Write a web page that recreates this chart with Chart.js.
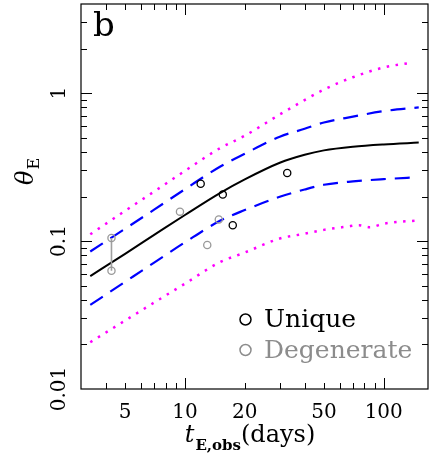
<!DOCTYPE html>
<html>
<head>
<meta charset="utf-8">
<script src="https://cdn.jsdelivr.net/npm/chart.js@4"></script>
<style>
  html, body { margin: 0; padding: 0; background: #fff; }
  #wrap { width: 429px; height: 455px; }
</style>
</head>
<body>
<div id="wrap"><canvas id="myChart" width="429" height="455"></canvas></div>
<script>
// curves (t_E,obs in days, theta_E)
const tMid = [3.34, 5, 7, 10, 15, 20, 30, 40, 50, 70, 100, 150];
const thetaMedian = [0.058, 0.082, 0.110, 0.150, 0.211, 0.261, 0.338, 0.383, 0.410, 0.434, 0.450, 0.463];
const thetaUpper1 = [0.085, 0.121, 0.163, 0.224, 0.318, 0.389, 0.507, 0.574, 0.633, 0.693, 0.755, 0.800];
const thetaLower1 = [0.037, 0.053, 0.0715, 0.098, 0.137, 0.162, 0.199, 0.223, 0.240, 0.253, 0.262, 0.270];
const tUpper2 = [3.34, 5, 7, 10, 15, 20, 30, 40, 50, 70, 100, 140];
const thetaUpper2 = [0.111, 0.160, 0.216, 0.298, 0.424, 0.515, 0.717, 0.897, 1.056, 1.28, 1.49, 1.61];
const tLower2 = [3.34, 5, 7, 10, 15, 20, 30, 40, 50, 65, 75, 85, 100, 150];
const thetaLower2 = [0.0207, 0.029, 0.0384, 0.0515, 0.072, 0.0836, 0.104, 0.112, 0.119, 0.125, 0.128, 0.124, 0.131, 0.138];

// events
const uniqueT = [12.0, 15.5, 17.4, 32.7];
const uniqueTheta = [0.244, 0.206, 0.128, 0.288];
const degenT = [4.27, 4.27, 9.44, 12.95, 14.8];
const degenTheta = [0.105, 0.063, 0.158, 0.094, 0.140];
const pairT = [4.27, 4.27];
const pairTheta = [0.105, 0.063];

const xTickLabels = [5, 10, 20, 50, 100];
const yTickLabels = [0.01, 0.1, 1];
const xRange = [3, 167];
const yRange = [0.01, 4];

const pts = (xs, ys) => xs.map((x, i) => ({x: x, y: ys[i]}));
const SERIF = '"DejaVu Serif", serif';
const GRAY = '#8c8c8c';

const curve = (data, color, dash, width) => ({
  data: data, showLine: true, borderColor: color, borderWidth: width,
  borderDash: dash, pointRadius: 0, cubicInterpolationMode: 'monotone', fill: false
});

// frame, inward ticks, labels, legend
const decor = {
  id: 'decor',
  afterDraw(chart) {
    const c = chart.ctx, a = chart.chartArea;
    const xs = chart.scales.x, ys = chart.scales.y;
    c.save();
    c.strokeStyle = '#000';
    c.lineWidth = 1.2;
    c.strokeRect(a.left, a.top, a.right - a.left, a.bottom - a.top);
    c.lineWidth = 1;
    // x ticks
    for (let d = 1; d <= 100; d *= 10) {
      for (let k = 1; k <= 9; k++) {
        const v = k * d;
        if (v <= xRange[0] || v >= xRange[1]) continue;
        const px = Math.round(xs.getPixelForValue(v)) + 0.5;
        const len = k === 1 ? 11 : 6;
        c.beginPath();
        c.moveTo(px, a.bottom); c.lineTo(px, a.bottom - len);
        c.moveTo(px, a.top); c.lineTo(px, a.top + len);
        c.stroke();
      }
    }
    // y ticks
    for (let d = 0.01; d <= 1.01; d *= 10) {
      for (let k = 1; k <= 9; k++) {
        const v = k * d;
        if (v <= yRange[0] * 1.001 || v >= yRange[1]) continue;
        const py = Math.round(ys.getPixelForValue(v)) + 0.5;
        const len = k === 1 ? 11 : 6;
        c.beginPath();
        c.moveTo(a.left, py); c.lineTo(a.left + len, py);
        c.moveTo(a.right, py); c.lineTo(a.right - len, py);
        c.stroke();
      }
    }
    // tick labels
    c.fillStyle = '#000';
    c.font = '20px ' + SERIF;
    c.textAlign = 'center';
    c.textBaseline = 'alphabetic';
    xTickLabels.forEach(v => c.fillText(String(v), xs.getPixelForValue(v), 418));
    yTickLabels.forEach(v => {
      c.save();
      c.translate(65, ys.getPixelForValue(v));
      c.rotate(-Math.PI / 2);
      c.fillText(String(v), 0, 0);
      c.restore();
    });
    // panel letter
    c.textAlign = 'left';
    c.font = '34px ' + SERIF;
    c.fillText('b', 93, 36);
    // x title
    const big = '24px ' + SERIF, itBig = 'italic 24px ' + SERIF, sub = '600 15px ' + SERIF;
    c.font = itBig; const w1 = c.measureText('t').width;
    c.font = sub; const w2 = c.measureText('E,obs').width;
    c.font = big; const w3 = c.measureText('(days)').width;
    let x0 = 250 - (w1 + w2 + w3 + 1) / 2;
    c.font = itBig; c.fillText('t', x0, 442); x0 += w1 + 1;
    c.font = sub; c.fillText('E,obs', x0, 450); x0 += w2;
    c.font = big; c.fillText('(days)', x0, 442);
    // y title
    c.save();
    c.translate(33, 172);
    c.rotate(-Math.PI / 2);
    c.font = itBig; const wt = c.measureText('θ').width;
    c.font = '16px ' + SERIF; const we = c.measureText('E').width;
    c.font = itBig; c.fillText('θ', -(wt + we) / 2, 0);
    c.font = '16px ' + SERIF; c.fillText('E', -(wt + we) / 2 + wt + 1, 6);
    c.restore();
    // legend
    c.font = '25px ' + SERIF;
    c.lineWidth = 1.5;
    c.strokeStyle = '#000'; c.fillStyle = '#000';
    c.beginPath(); c.arc(245.5, 319.5, 5.5, 0, 2 * Math.PI); c.stroke();
    c.fillText('Unique', 264, 327);
    c.strokeStyle = GRAY; c.fillStyle = GRAY;
    c.beginPath(); c.arc(245.5, 350, 5.5, 0, 2 * Math.PI); c.stroke();
    c.fillText('Degenerate', 264, 358);
    c.restore();
  }
};

const ctx = document.getElementById('myChart');
const myChart = new Chart(ctx, {
  type: 'scatter',
  data: {
    datasets: [
      { data: pts(uniqueT, uniqueTheta), pointRadius: 3.6, pointBorderWidth: 1.3,
        pointBorderColor: '#000', pointBackgroundColor: 'rgba(0,0,0,0)', order: 0 },
      { data: pts(degenT, degenTheta), pointRadius: 3.6, pointBorderWidth: 1.3,
        pointBorderColor: '#999', pointBackgroundColor: 'rgba(0,0,0,0)', order: 1 },
      { data: pts(pairT, pairTheta), showLine: true, borderColor: '#a0a0a0', borderWidth: 1.6,
        pointRadius: 0, order: 2 },
      Object.assign(curve(pts(tMid, thetaMedian), '#000', [], 2), {order: 3}),
      Object.assign(curve(pts(tMid, thetaUpper1), '#0000ff', [15, 9], 2.2), {order: 4}),
      Object.assign(curve(pts(tMid, thetaLower1), '#0000ff', [15, 9], 2.2), {order: 5}),
      Object.assign(curve(pts(tUpper2, thetaUpper2), '#ff00ff', [2.5, 6.5], 2.5), {order: 6}),
      Object.assign(curve(pts(tLower2, thetaLower2), '#ff00ff', [2.5, 6.5], 2.5), {order: 7})
    ]
  },
  options: {
    responsive: false,
    animation: false,
    layout: { autoPadding: false, padding: { top: 4, right: 1, left: 0, bottom: 0 } },
    plugins: { legend: { display: false }, tooltip: { enabled: false } },
    scales: {
      x: {
        type: 'logarithmic', min: xRange[0], max: xRange[1],
        grid: { display: false }, border: { display: false },
        ticks: { display: false },
        afterFit: s => { s.height = 66; }
      },
      y: {
        type: 'logarithmic', min: yRange[0], max: yRange[1],
        grid: { display: false }, border: { display: false },
        ticks: { display: false },
        afterFit: s => { s.width = 81; }
      }
    }
  },
  plugins: [decor]
});
</script>
</body>
</html>
